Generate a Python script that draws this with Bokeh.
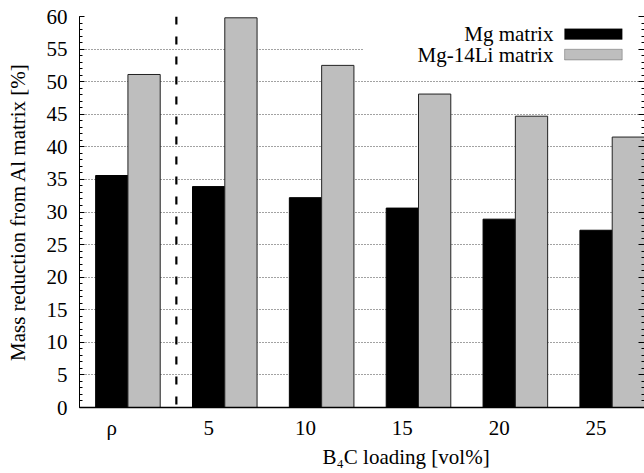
from bokeh.plotting import figure
from bokeh.models import (Range1d, FixedTicker, SingleIntervalTicker, LinearAxis,
                          Span, BoxAnnotation, Label, Title)
from bokeh.embed import file_html
from bokeh.resources import INLINE

# Mass reduction relative to an Al matrix, per B4C loading
categories = ["ρ", "5", "10", "15", "20", "25"]
mg_matrix = [35.6, 33.9, 32.2, 30.6, 28.9, 27.2]
mg14li_matrix = [51.1, 59.8, 52.5, 48.1, 44.7, 41.5]
series_names = ["Mg matrix", "Mg-14Li matrix"]

FONT = "Liberation Serif"
FS = "21px"
GREY = "#bebebe"

x_pos = list(range(len(categories)))
bar_w = 1.0 / 3.0

p = figure(width=644, height=473, output_backend="svg", toolbar_location=None,
           x_range=Range1d(-bar_w, 5.5), y_range=Range1d(0, 60),
           min_border_left=79, min_border_right=0, min_border_top=16,
           min_border_bottom=66)
p.outline_line_color = None
p.background_fill_color = "white"
p.border_fill_color = "white"

# grid: dotted horizontal lines at the major y ticks
p.xgrid.grid_line_color = None
p.ygrid.grid_line_color = "#444444"
p.ygrid.grid_line_dash = "1 2"
p.ygrid.grid_line_width = 1

# bars
p.vbar(x=x_pos, top=mg_matrix, width=bar_w, fill_color="black",
       line_color="black", line_width=1)
p.vbar(x=[x + bar_w for x in x_pos], top=mg14li_matrix, width=bar_w,
       fill_color=GREY, line_color="#222222", line_width=1)

# separator between the reference density group and the loadings
p.add_layout(Span(location=2 * bar_w, dimension="height", line_color="black",
                  line_width=2.2, line_dash="8 12"))

# x axis
xa = p.xaxis[0]
xa.ticker = FixedTicker(ticks=x_pos)
xa.major_label_overrides = {i: c for i, c in enumerate(categories)}
xa.major_tick_in = 0
xa.major_tick_out = 0
xa.minor_tick_line_color = None
xa.major_label_standoff = 8
xa.major_label_text_font = FONT
xa.major_label_text_font_size = FS
xa.major_label_text_color = "black"
xa.axis_line_color = "black"
xa.axis_line_width = 1.5

# x axis title, set right of the frame centre
p.add_layout(Title(text="B₄C loading [vol%]", text_font=FONT,
                   text_font_size=FS, text_font_style="normal",
                   text_color="black", align="left", offset=243,
                   standoff=0), "below")

# y axis
ya = p.yaxis[0]
ya.ticker = SingleIntervalTicker(interval=5, num_minor_ticks=5)
ya.major_tick_in = 5
ya.major_tick_out = 0
ya.minor_tick_in = 3
ya.minor_tick_out = 0
ya.major_tick_line_color = "black"
ya.minor_tick_line_color = "black"
ya.major_label_standoff = 12
ya.major_label_text_font = FONT
ya.major_label_text_font_size = FS
ya.major_label_text_color = "black"
ya.axis_line_color = "black"
ya.axis_line_width = 1
ya.axis_label = "Mass reduction from Al matrix [%]"
ya.axis_label_text_font = FONT
ya.axis_label_text_font_size = FS
ya.axis_label_text_font_style = "normal"
ya.axis_label_text_color = "black"
ya.axis_label_standoff = 14

# mirrored ticks on the right border, without labels
ra = LinearAxis(ticker=SingleIntervalTicker(interval=5, num_minor_ticks=5),
                major_tick_in=6, major_tick_out=0, minor_tick_in=3,
                minor_tick_out=0, major_label_standoff=0,
                major_label_overrides={v: "" for v in range(0, 61, 5)},
                axis_line_color=None)
p.add_layout(ra, "right")

# key: opaque box, labels on the left, swatches on the right
p.add_layout(BoxAnnotation(left=2.6, right=5.44, bottom=50.4, top=59.7,
                           fill_color="white", fill_alpha=1.0,
                           line_color=None, level="glyph"))
key_rows = [(57.3, "black", "black"), (54.15, GREY, "#222222")]
for (yc, fill, edge), name in zip(key_rows, series_names):
    p.add_layout(Label(x=4.56, y=yc, text=name, text_font=FONT,
                       text_font_size=FS, text_align="right",
                       text_baseline="middle", text_color="black"))
    p.add_layout(BoxAnnotation(left=4.675, right=5.27, bottom=yc - 0.82,
                               top=yc + 0.82, fill_color=fill, fill_alpha=1.0,
                               line_color=edge, line_width=1))

open("out.html", "w").write(file_html(p, INLINE))
